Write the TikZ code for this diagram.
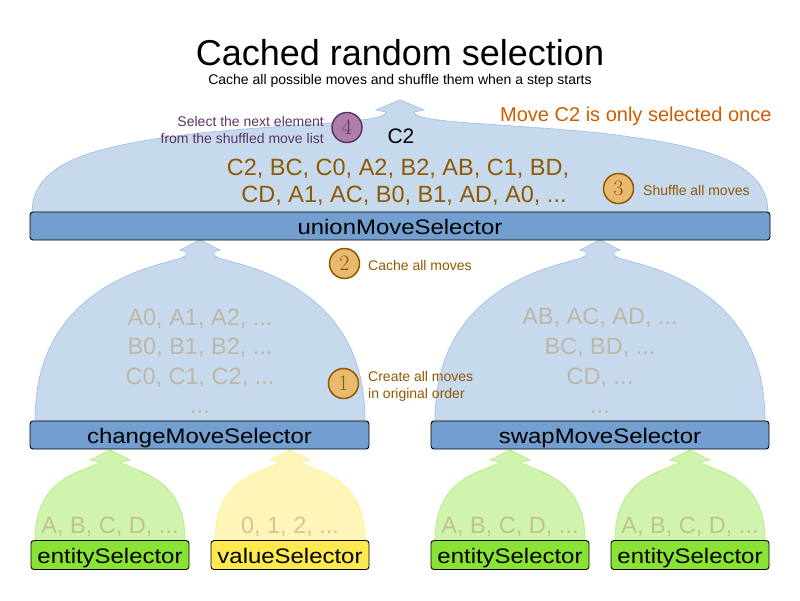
\documentclass[tikz,border=0pt]{standalone}
\usepackage{fontspec}
\setsansfont{Liberation Sans}
\usepackage{xcolor}
\usepackage{tikz}
\usetikzlibrary{calc}
\definecolor{selblue}{HTML}{729FCF}
\definecolor{selgreen}{HTML}{8AE234}
\definecolor{selyellow}{HTML}{FCE94F}
\definecolor{movebrown}{HTML}{8F5902}
\definecolor{moveorange}{HTML}{CE5C00}
\definecolor{moveplum}{HTML}{5C3566}
\definecolor{moveplumfill}{HTML}{AD7FA8}
\definecolor{stepfill}{HTML}{E9B96E}
\definecolor{movegray}{HTML}{B49664}
\tikzset{
  selbox/.style={draw=black, line width=.9, rounded corners=3, minimum height=28, inner sep=0,
    text height=16.6, text depth=0, font=\sffamily\fontsize{21}{24}\selectfont},
  domefill/.style={fill=#1!40!white, draw=#1!60!white, line width=.8},
  movetext/.style={text=movegray, text opacity=.5, font=\sffamily\fontsize{23.5}{28}\selectfont,
    inner sep=0, anchor=base},
  shuffletext/.style={text=movebrown, font=\sffamily\fontsize{23.5}{28}\selectfont, inner sep=0, anchor=base},
  stepcircle/.style={circle, draw=movebrown, fill=stepfill, line width=1.5, minimum size=30, inner sep=0,
    text=movebrown, font=\rmfamily\fontsize{22}{22}\selectfont},
  steptext/.style={text=movebrown, font=\sffamily\fontsize{14}{17}\selectfont, inner sep=0, anchor=base west},
}
\newcommand{\selname}[1]{\scalebox{1.14}[1]{#1}}
% #1 colour, #2/#3 tip, #4 half width, #5 height, #6/#7 shoulder, #8 neck, #9 barb
\newcommand{\dome}[9]{%
  \begin{scope}[shift={(#2,#3)}]
  \path[domefill=#1] (-#4,#5) .. controls (-#4,{.53*#5}) and ({-#6-.6*(#4-#6)},{#7+.15*(#5-#7)}) .. (-#6,#7)
    .. controls ({-.5*#6},{.7*#7}) and (-#8,{.7*#7}) .. (-#8,12) -- (-#9,10) -- (0,0) -- (#9,10) -- (#8,12)
    .. controls (#8,{.7*#7}) and ({.5*#6},{.7*#7}) .. (#6,#7)
    .. controls ({#6+.6*(#4-#6)},{#7+.15*(#5-#7)}) and (#4,{.53*#5}) .. (#4,#5) -- cycle;
  \end{scope}}

\begin{document}
\begin{tikzpicture}[x=1pt, y=-1pt]
\useasboundingbox (0,0) rectangle (800,600);

% domes
\dome{selblue}{400}{100}{368}{113}{200}{33}{14}{24}
\dome{selblue}{200}{240}{165}{181}{50}{27}{13}{20}
\dome{selblue}{600}{240}{165}{181}{50}{27}{13}{20}
\dome{selgreen}{110}{450}{75}{91}{25}{19}{10}{20}
\dome{selyellow}{290}{450}{75}{91}{25}{19}{10}{20}
\dome{selgreen}{510}{450}{75}{91}{25}{19}{10}{20}
\dome{selgreen}{690}{450}{75}{91}{25}{19}{10}{20}

% titles
\node[anchor=base, inner sep=0, font=\sffamily\fontsize{36}{36}\selectfont] (title) at (400,65) {Cached random selection};
\node[anchor=base, inner sep=0, font=\sffamily\fontsize{14}{14}\selectfont] (subtitle) at (400,84) {Cache all possible moves and shuffle them when a step starts};

% selectors
\node[selbox, fill=selblue, minimum width=740] (union) at (400,226) {\selname{unionMoveSelector}};
\node[selbox, fill=selblue, minimum width=339] (change) at (199.5,435) {\selname{changeMoveSelector}};
\node[selbox, fill=selblue, minimum width=338] (swap) at (600,435) {\selname{swapMoveSelector}};
\node[selbox, fill=selgreen, minimum width=158, minimum height=29] (entityA) at (110,555) {\selname{entitySelector}};
\node[selbox, fill=selyellow, minimum width=158, minimum height=29] (value) at (290,555) {\selname{valueSelector}};
\node[selbox, fill=selgreen, minimum width=158, minimum height=29] (entityB) at (510,555) {\selname{entitySelector}};
\node[selbox, fill=selgreen, minimum width=158, minimum height=29] (entityC) at (690,555) {\selname{entitySelector}};

% moves
\node[movetext] (changeA) at (200,325) {A0, A1, A2, ...};
\node[movetext] (changeB) at (200,354) {B0, B1, B2, ...};
\node[movetext] (changeC) at (200,384) {C0, C1, C2, ...};
\node[movetext] (changeD) at (200,413) {...};
\node[movetext] (swapA) at (600,324) {AB, AC, AD, ...};
\node[movetext] (swapB) at (600,354) {BC, BD, ...};
\node[movetext] (swapC) at (600,384) {CD, ...};
\node[movetext] (swapD) at (600,413) {...};
\node[movetext] (entityAvals) at (110,533) {A, B, C, D, ...};
\node[movetext] (valuevals) at (290,533) {0, 1, 2, ...};
\node[movetext] (entityBvals) at (510,533) {A, B, C, D, ...};
\node[movetext] (entityCvals) at (690,533) {A, B, C, D, ...};

\node[shuffletext] (shuffledA) at (398,175) {C2, BC, C0, A2, B2, AB, C1, BD,};
\node[shuffletext] (shuffledB) at (404,202) {CD, A1, AC, B0, B1, AD, A0, ...};
\node[anchor=base, inner sep=0, font=\sffamily\fontsize{21}{21}\selectfont] (picked) at (401,143) {C2};
\node[anchor=base west, inner sep=0, text=moveorange, font=\sffamily\fontsize{20}{20}\selectfont] (once) at (500,121) {Move C2 is only selected once};

% steps
\node[stepcircle] (stepA) at (343.5,383.5) {1};
\node[steptext] (stepAa) at (368,381) {Create all moves};
\node[steptext] (stepAb) at (368,398) {in original order};
\node[stepcircle] (stepB) at (344.5,263.5) {2};
\node[steptext] (stepBa) at (368,270) {Cache all moves};
\node[stepcircle] (stepC) at (618.5,188.5) {3};
\node[steptext] (stepCa) at (643,195) {Shuffle all moves};
\node[stepcircle, draw=moveplum, fill=moveplumfill, text=moveplum] (stepD) at (347,127.5) {4};
\node[steptext, text=moveplum, anchor=base east] (stepDa) at (324,126) {Select the next element};
\node[steptext, text=moveplum, anchor=base east] (stepDb) at (324,143) {from the shuffled move list};
\end{tikzpicture}
\end{document}
